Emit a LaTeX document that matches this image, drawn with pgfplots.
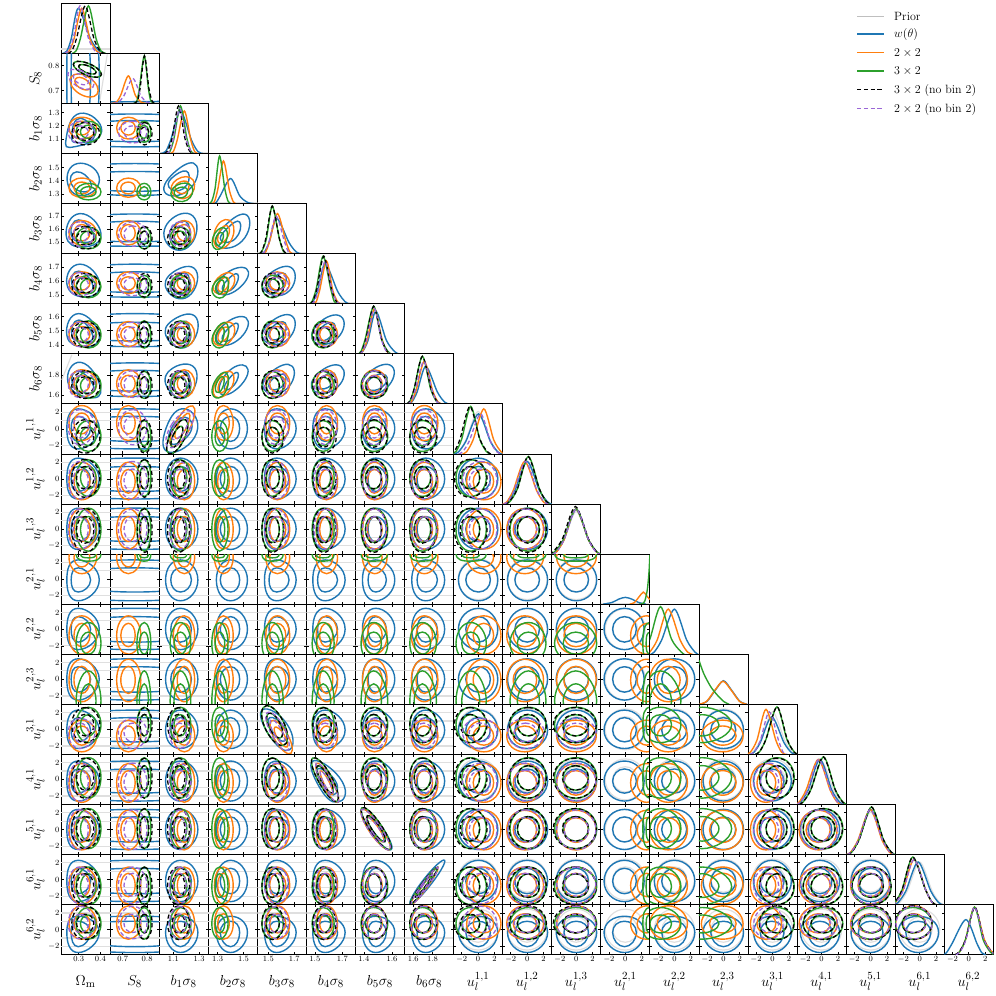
\documentclass[border=0pt]{standalone}
\usepackage{pgfplots}
\pgfplotsset{compat=1.18}
\definecolor{cB}{HTML}{1F77B4}
\definecolor{cO}{HTML}{FF7F0E}
\definecolor{cG}{HTML}{2CA02C}
\definecolor{cP}{HTML}{9A66D6}
\tikzset{
  pA/.style={gray!25,line width=1.2pt},
  pB/.style={cB,line width=1.4pt},
  pO/.style={cO,line width=1.4pt},
  pG/.style={cG,line width=1.4pt},
  pK/.style={black,line width=1.3pt,dash pattern=on 4.2pt off 2.6pt},
  pP/.style={cP,line width=1.3pt,dash pattern=on 4.2pt off 2.6pt},
  cl/.style={smooth cycle,tension=1},
  dg/.style={smooth}
}
% marginal extents per parameter and series: outer left, inner left, centre, inner right, outer right
\def\mgx#1#2 #3 #4 #5 #6;{%
  \expandafter\gdef\csname p#1lo\endcsname{#2}\expandafter\gdef\csname p#1li\endcsname{#3}%
  \expandafter\gdef\csname p#1c\endcsname{#4}%
  \expandafter\gdef\csname p#1ri\endcsname{#5}\expandafter\gdef\csname p#1ro\endcsname{#6}}
\newcommand\mg[3]{\mgx{#1#2}#3;}
\mg{1}{B}{0.245 0.265 0.298 0.355 0.395}
\mg{1}{O}{0.255 0.278 0.314 0.352 0.383}
\mg{1}{G}{0.288 0.308 0.345 0.380 0.403}
\mg{1}{K}{0.268 0.290 0.330 0.370 0.398}
\mg{1}{P}{0.252 0.275 0.306 0.345 0.375}
\mg{2}{B}{0.30 0.45 0.75 1.05 1.20}
\mg{2}{O}{0.675 0.692 0.723 0.751 0.774}
\mg{2}{G}{0.758 0.768 0.788 0.805 0.815}
\mg{2}{K}{0.760 0.771 0.789 0.807 0.820}
\mg{2}{P}{0.682 0.705 0.741 0.774 0.799}
\mg{3}{B}{1.04 1.08 1.155 1.24 1.29}
\mg{3}{O}{1.10 1.13 1.185 1.235 1.265}
\mg{3}{G}{1.075 1.105 1.155 1.205 1.235}
\mg{3}{K}{1.055 1.09 1.14 1.19 1.225}
\mg{3}{P}{1.07 1.10 1.15 1.20 1.235}
\mg{4}{B}{1.29 1.32 1.40 1.47 1.53}
\mg{4}{O}{1.275 1.30 1.345 1.39 1.42}
\mg{4}{G}{1.255 1.28 1.315 1.355 1.38}
\mg{5}{B}{1.47 1.505 1.565 1.66 1.715}
\mg{5}{O}{1.48 1.51 1.57 1.635 1.665}
\mg{5}{G}{1.45 1.485 1.53 1.585 1.615}
\mg{5}{K}{1.45 1.48 1.53 1.585 1.62}
\mg{5}{P}{1.47 1.505 1.56 1.625 1.655}
\mg{6}{B}{1.485 1.52 1.575 1.665 1.72}
\mg{6}{O}{1.51 1.535 1.585 1.63 1.665}
\mg{6}{G}{1.48 1.51 1.56 1.615 1.64}
\mg{6}{K}{1.485 1.515 1.565 1.62 1.655}
\mg{6}{P}{1.495 1.525 1.575 1.625 1.66}
\mg{7}{B}{1.39 1.43 1.485 1.56 1.62}
\mg{7}{O}{1.39 1.425 1.475 1.53 1.565}
\mg{7}{G}{1.38 1.41 1.47 1.525 1.57}
\mg{7}{K}{1.385 1.415 1.47 1.525 1.565}
\mg{7}{P}{1.39 1.42 1.475 1.525 1.56}
\mg{8}{B}{1.585 1.64 1.73 1.85 1.925}
\mg{8}{O}{1.58 1.63 1.715 1.80 1.855}
\mg{8}{G}{1.565 1.61 1.695 1.78 1.84}
\mg{8}{K}{1.565 1.61 1.695 1.785 1.845}
\mg{8}{P}{1.575 1.62 1.71 1.795 1.845}
\mg{9}{B}{-2.4 -1.5 0.05 1.5 2.4}
\mg{9}{O}{-1.4 -0.6 0.7 1.9 2.8}
\mg{9}{G}{-2.7 -2.0 -0.9 0.2 1.0}
\mg{9}{K}{-2.9 -2.2 -1.0 0.2 1.1}
\mg{9}{P}{-1.9 -1.1 0.3 1.5 2.3}
\mg{10}{B}{-2.4 -1.5 0 1.5 2.5}
\mg{10}{O}{-2.5 -1.7 -0.3 1.15 2.0}
\mg{10}{G}{-2.1 -1.2 0.15 1.5 2.3}
\mg{10}{K}{-2.2 -1.2 0.1 1.5 2.35}
\mg{10}{P}{-2.4 -1.6 -0.2 1.2 2.1}
\mg{11}{B}{-2.45 -1.5 0 1.5 2.5}
\mg{11}{O}{-2.4 -1.5 -0.05 1.5 2.45}
\mg{11}{G}{-2.65 -1.6 -0.05 1.5 2.5}
\mg{11}{K}{-2.8 -1.7 -0.1 1.5 2.45}
\mg{11}{P}{-2.4 -1.5 0 1.5 2.4}
\mg{12}{B}{-2.6 -1.55 -0.1 1.35 2.3}
\mg{12}{O}{0.65 1.45 2.6 3.5 4.2}
\mg{12}{G}{2.15 2.55 3.1 4.5 5.2}
\mg{13}{B}{-2.45 -1.55 0 1.5 2.5}
\mg{13}{O}{-3.0 -2.1 -0.75 0.7 1.6}
\mg{13}{G}{-3.9 -3.0 -1.7 -0.35 0.8}
\mg{14}{B}{-2.5 -1.55 0 1.5 2.45}
\mg{14}{O}{-2.7 -1.7 -0.1 1.55 2.4}
\mg{14}{G}{-4.5 -3.8 -2.6 -0.55 1.0}
\mg{15}{B}{-2.3 -1.5 -0.1 1.4 2.3}
\mg{15}{O}{-2.7 -1.9 -0.8 0.4 1.1}
\mg{15}{G}{-1.6 -0.8 0.55 1.75 2.65}
\mg{15}{K}{-1.6 -0.8 0.55 1.8 2.6}
\mg{15}{P}{-2.3 -1.5 -0.4 0.75 1.3}
\mg{16}{B}{-2.6 -1.65 -0.2 1.25 2.2}
\mg{16}{O}{-2.75 -1.9 -0.4 1.05 1.9}
\mg{16}{G}{-2.25 -1.3 0.25 1.65 2.6}
\mg{16}{K}{-2.25 -1.3 0.2 1.65 2.55}
\mg{16}{P}{-2.6 -1.7 -0.35 1.1 1.95}
\mg{17}{B}{-2.4 -1.5 0 1.5 2.4}
\mg{17}{O}{-2.45 -1.55 -0.05 1.4 2.3}
\mg{17}{G}{-2.3 -1.4 0.1 1.55 2.5}
\mg{17}{K}{-2.3 -1.4 0.1 1.55 2.5}
\mg{17}{P}{-2.4 -1.5 -0.05 1.45 2.35}
\mg{18}{B}{-2.65 -1.7 -0.2 1.35 2.3}
\mg{18}{O}{-2.95 -2.05 -0.7 0.75 1.5}
\mg{18}{G}{-3.0 -2.15 -0.85 0.7 1.5}
\mg{18}{K}{-3.0 -2.15 -0.85 0.7 1.5}
\mg{18}{P}{-2.9 -2.0 -0.7 0.75 1.5}
\mg{19}{B}{-2.75 -2.05 -0.35 1.0 1.6}
\mg{19}{O}{-1.15 -0.4 0.7 1.9 2.85}
\mg{19}{G}{-1.15 -0.4 0.7 1.75 2.65}
\mg{19}{K}{-1.2 -0.4 0.75 1.85 2.85}
\mg{19}{P}{-1.1 -0.35 0.7 1.85 2.8}
\foreach \p in {9,...,19}{\mg{\p}{A}{-2.45 -1.52 0 1.52 2.45}}
% panels whose contours are tilted: four points per contour
\newcommand\ov[4]{\expandafter\def\csname ov#1.#2#3\endcsname{#4}}
\ov{1}{2}{Oo}{(0.39,0.70)(0.325,0.762)(0.26,0.74)(0.325,0.678)}
\ov{1}{2}{Oi}{(0.355,0.715)(0.318,0.75)(0.282,0.738)(0.318,0.705)}
\ov{1}{2}{Go}{(0.405,0.765)(0.34,0.81)(0.275,0.805)(0.34,0.76)}
\ov{1}{2}{Gi}{(0.38,0.773)(0.34,0.80)(0.30,0.797)(0.34,0.77)}
\ov{1}{2}{Po}{(0.37,0.725)(0.31,0.78)(0.25,0.765)(0.31,0.71)}
\ov{1}{2}{Pi}{(0.345,0.735)(0.31,0.765)(0.275,0.755)(0.31,0.725)}
\ov{3}{9}{Bo}{(1.28,-0.5)(1.19,2.4)(1.044,0.1)(1.07,-2.8)}
\ov{3}{9}{Bi}{(1.235,-0.3)(1.19,1.4)(1.08,-0.1)(1.095,-1.85)}
\ov{3}{9}{Oo}{(1.25,2.75)(1.118,0.7)(1.09,-2.1)(1.225,-0.05)}
\ov{3}{9}{Oi}{(1.22,1.85)(1.14,0.6)(1.12,-1.15)(1.20,0.1)}
\ov{3}{9}{Go}{(1.195,1.1)(1.08,-0.55)(1.065,-2.95)(1.18,-1.35)}
\ov{3}{9}{Gi}{(1.165,0.3)(1.10,-0.7)(1.09,-2.2)(1.155,-1.2)}
\ov{3}{9}{Po}{(1.24,2.1)(1.09,0.6)(1.06,-2.2)(1.205,-0.6)}
\ov{3}{9}{Pi}{(1.205,1.2)(1.115,0.55)(1.095,-1.25)(1.18,-0.35)}
\ov{5}{15}{Bo}{(1.455,2.35)(1.51,-0.8)(1.665,-2.45)(1.645,0.6)}
\ov{5}{15}{Bi}{(1.51,1.4)(1.535,-0.35)(1.625,-1.4)(1.62,0.3)}
\ov{5}{15}{Oo}{(1.522,1.0)(1.56,-1.5)(1.676,-2.85)(1.638,-0.35)}
\ov{5}{15}{Oi}{(1.55,0.25)(1.575,-1.2)(1.645,-2.1)(1.622,-0.65)}
\ov{5}{15}{Go}{(1.46,2.6)(1.50,-0.6)(1.637,-1.7)(1.595,1.5)}
\ov{5}{15}{Gi}{(1.493,1.8)(1.52,-0.2)(1.604,-0.9)(1.577,1.1)}
\ov{5}{15}{Po}{(1.49,2.0)(1.53,-0.8)(1.65,-2.5)(1.615,0.4)}
\ov{5}{15}{Pi}{(1.52,1.1)(1.545,-0.6)(1.62,-1.5)(1.595,0.1)}
\ov{6}{16}{Bo}{(1.495,2.25)(1.525,-0.7)(1.665,-2.75)(1.70,-0.3)}
\ov{6}{16}{Bi}{(1.525,1.3)(1.55,-0.5)(1.635,-1.85)(1.65,-0.2)}
\ov{6}{16}{Oo}{(1.51,1.9)(1.565,-0.9)(1.67,-2.7)(1.615,0.1)}
\ov{6}{16}{Oi}{(1.54,1.0)(1.572,-0.7)(1.63,-1.8)(1.598,-0.1)}
\ov{6}{16}{Go}{(1.483,2.55)(1.535,-0.5)(1.663,-2.6)(1.611,0.6)}
\ov{6}{16}{Gi}{(1.517,1.6)(1.55,-0.3)(1.629,-1.6)(1.596,0.4)}
\ov{7}{17}{Bo}{(1.385,2.4)(1.455,-0.5)(1.595,-2.4)(1.52,0.5)}
\ov{7}{17}{Bi}{(1.425,1.45)(1.47,-0.3)(1.55,-1.45)(1.51,0.3)}
\ov{7}{17}{Oo}{(1.385,2.4)(1.45,-0.5)(1.585,-2.4)(1.51,0.5)}
\ov{7}{17}{Oi}{(1.42,1.45)(1.46,-0.3)(1.54,-1.45)(1.5,0.3)}
\ov{7}{17}{Go}{(1.386,2.6)(1.455,-0.4)(1.588,-2.4)(1.519,0.6)}
\ov{7}{17}{Gi}{(1.425,1.65)(1.465,-0.2)(1.549,-1.45)(1.509,0.4)}
\ov{8}{18}{Bo}{(1.924,2.3)(1.715,0.1)(1.569,-2.9)(1.775,-0.7)}
\ov{8}{18}{Bi}{(1.85,1.35)(1.725,-0.1)(1.63,-1.85)(1.76,-0.5)}
\ov{8}{18}{Oo}{(1.855,1.45)(1.695,-0.5)(1.58,-2.95)(1.74,-1.0)}
\ov{8}{18}{Oi}{(1.80,0.6)(1.705,-0.6)(1.635,-2.1)(1.73,-0.9)}
\ov{8}{18}{Go}{(1.85,1.45)(1.69,-0.5)(1.57,-2.95)(1.73,-1.0)}
\ov{8}{18}{Gi}{(1.795,0.6)(1.7,-0.6)(1.625,-2.1)(1.72,-0.9)}
\ov{3}{4}{Bo}{(1.28,1.513)(1.128,1.48)(1.032,1.315)(1.216,1.328)}
\ov{3}{4}{Bi}{(1.216,1.46)(1.115,1.442)(1.065,1.353)(1.178,1.34)}
\ov{3}{4}{Oo}{(1.254,1.404)(1.128,1.409)(1.095,1.303)(1.216,1.277)}
\ov{3}{4}{Oi}{(1.216,1.384)(1.14,1.384)(1.12,1.328)(1.191,1.308)}
\ov{3}{4}{Go}{(1.242,1.358)(1.128,1.366)(1.09,1.277)(1.204,1.252)}
\ov{3}{4}{Gi}{(1.204,1.34)(1.128,1.34)(1.115,1.29)(1.184,1.277)}
\ov{4}{5}{Bo}{(1.527,1.705)(1.352,1.622)(1.30,1.475)(1.489,1.51)}
\ov{4}{5}{Bi}{(1.47,1.654)(1.372,1.604)(1.326,1.515)(1.437,1.528)}
\ov{4}{5}{Oo}{(1.41,1.65)(1.30,1.63)(1.285,1.47)(1.395,1.50)}
\ov{4}{5}{Oi}{(1.385,1.615)(1.325,1.60)(1.305,1.50)(1.37,1.53)}
\ov{4}{5}{Go}{(1.365,1.60)(1.28,1.57)(1.27,1.46)(1.35,1.48)}
\ov{4}{5}{Gi}{(1.34,1.57)(1.295,1.55)(1.29,1.48)(1.33,1.50)}
\ov{4}{6}{Bo}{(1.522,1.688)(1.347,1.64)(1.313,1.51)(1.476,1.557)}
\ov{4}{6}{Bi}{(1.455,1.648)(1.372,1.605)(1.341,1.533)(1.424,1.552)}
\ov{4}{6}{Oo}{(1.415,1.65)(1.30,1.62)(1.28,1.52)(1.40,1.54)}
\ov{4}{6}{Oi}{(1.38,1.62)(1.32,1.60)(1.31,1.53)(1.37,1.55)}
\ov{4}{6}{Go}{(1.37,1.62)(1.28,1.59)(1.27,1.50)(1.36,1.50)}
\ov{4}{6}{Gi}{(1.345,1.60)(1.295,1.58)(1.29,1.52)(1.335,1.52)}
\ov{4}{7}{Bo}{(1.52,1.59)(1.345,1.54)(1.31,1.41)(1.475,1.45)}
\ov{4}{7}{Bi}{(1.455,1.55)(1.37,1.505)(1.34,1.435)(1.42,1.455)}
\ov{4}{7}{Oo}{(1.415,1.55)(1.30,1.52)(1.28,1.41)(1.40,1.43)}
\ov{4}{7}{Oi}{(1.38,1.52)(1.32,1.50)(1.31,1.43)(1.37,1.45)}
\ov{4}{7}{Go}{(1.37,1.55)(1.28,1.50)(1.27,1.40)(1.36,1.41)}
\ov{4}{7}{Gi}{(1.345,1.52)(1.295,1.49)(1.29,1.42)(1.335,1.43)}
\ov{4}{8}{Bo}{(1.52,1.89)(1.37,1.82)(1.325,1.61)(1.48,1.70)}
\ov{4}{8}{Bi}{(1.455,1.825)(1.385,1.76)(1.355,1.655)(1.43,1.705)}
\ov{4}{8}{Oo}{(1.41,1.83)(1.30,1.76)(1.28,1.585)(1.395,1.65)}
\ov{4}{8}{Oi}{(1.375,1.78)(1.32,1.74)(1.31,1.63)(1.365,1.665)}
\ov{4}{8}{Go}{(1.37,1.82)(1.28,1.74)(1.27,1.585)(1.36,1.63)}
\ov{4}{8}{Gi}{(1.345,1.78)(1.295,1.73)(1.29,1.63)(1.335,1.665)}
\ov{3}{5}{Bo}{(1.267,1.68)(1.09,1.68)(1.044,1.503)(1.216,1.465)}
\ov{3}{5}{Bi}{(1.216,1.637)(1.115,1.637)(1.077,1.528)(1.191,1.495)}
\ov{3}{6}{Bo}{(1.275,1.676)(1.10,1.664)(1.052,1.533)(1.216,1.49)}
\ov{3}{6}{Bi}{(1.216,1.64)(1.128,1.629)(1.09,1.545)(1.191,1.514)}
\ov{3}{7}{Bo}{(1.28,1.588)(1.10,1.577)(1.052,1.449)(1.216,1.395)}
\ov{3}{7}{Bi}{(1.216,1.55)(1.128,1.54)(1.09,1.46)(1.191,1.42)}
\ov{3}{8}{Bo}{(1.267,1.87)(1.077,1.854)(1.065,1.65)(1.216,1.593)}
\ov{3}{8}{Bi}{(1.216,1.815)(1.115,1.80)(1.09,1.67)(1.191,1.64)}
\ov{5}{6}{Bo}{(1.687,1.688)(1.51,1.652)(1.472,1.533)(1.65,1.52)}
\ov{5}{6}{Bi}{(1.63,1.65)(1.535,1.62)(1.51,1.55)(1.605,1.55)}
\ov{5}{7}{Bo}{(1.687,1.60)(1.51,1.555)(1.472,1.43)(1.65,1.44)}
\ov{5}{7}{Bi}{(1.63,1.555)(1.535,1.53)(1.51,1.45)(1.605,1.46)}
\ov{5}{8}{Bo}{(1.685,1.89)(1.52,1.83)(1.47,1.65)(1.64,1.66)}
\ov{5}{8}{Bi}{(1.63,1.80)(1.54,1.77)(1.51,1.67)(1.60,1.68)}
\ov{6}{7}{Bo}{(1.69,1.60)(1.525,1.55)(1.50,1.42)(1.665,1.45)}
\ov{6}{7}{Bi}{(1.64,1.55)(1.55,1.525)(1.53,1.44)(1.615,1.46)}
\ov{6}{8}{Bo}{(1.69,1.89)(1.525,1.82)(1.495,1.64)(1.665,1.68)}
\ov{6}{8}{Bi}{(1.64,1.82)(1.55,1.77)(1.525,1.67)(1.62,1.70)}
\ov{7}{8}{Bo}{(1.60,1.89)(1.44,1.83)(1.40,1.63)(1.56,1.67)}
\ov{7}{8}{Bi}{(1.555,1.80)(1.45,1.77)(1.43,1.66)(1.53,1.68)}
\ov{1}{3}{Bo}{(0.406,1.156)(0.306,1.295)(0.242,1.105)(0.283,1.042)}
\ov{1}{3}{Bi}{(0.375,1.13)(0.306,1.257)(0.268,1.13)(0.298,1.072)}
\ov{1}{4}{Bo}{(0.394,1.43)(0.294,1.53)(0.249,1.378)(0.329,1.29)}
\ov{1}{4}{Bi}{(0.355,1.39)(0.291,1.467)(0.265,1.378)(0.329,1.315)}
\ov{1}{5}{Bo}{(0.403,1.566)(0.306,1.718)(0.242,1.553)(0.322,1.465)}
\ov{1}{5}{Bi}{(0.37,1.55)(0.30,1.67)(0.265,1.56)(0.32,1.50)}
\ov{1}{6}{Bo}{(0.398,1.58)(0.306,1.72)(0.245,1.58)(0.329,1.486)}
\ov{1}{6}{Bi}{(0.365,1.57)(0.30,1.67)(0.268,1.58)(0.325,1.515)}
\ov{1}{7}{Bo}{(0.395,1.47)(0.30,1.62)(0.245,1.47)(0.325,1.39)}
\ov{1}{7}{Bi}{(0.365,1.465)(0.30,1.575)(0.268,1.47)(0.32,1.425)}
\ov{1}{8}{Bo}{(0.40,1.68)(0.31,1.93)(0.25,1.73)(0.345,1.575)}
\ov{1}{8}{Bi}{(0.37,1.68)(0.30,1.84)(0.27,1.72)(0.33,1.62)}
% faint prior edges
\expandafter\def\csname ex1.2\endcsname{\addplot[pA] coordinates {(0.398,0.662)(0.432,0.845)};}
\expandafter\def\csname ex1.8\endcsname{\addplot[pA] coordinates {(0.222,1.753)(0.268,2.007)};}
% heights on the diagonal: tail, shoulder, peak
\newcommand\hy[4]{\expandafter\def\csname hy#1a\endcsname{#2}\expandafter\def\csname hy#1b\endcsname{#3}\expandafter\def\csname hy#1c\endcsname{#4}}
\hy{95}{0.05}{0.30}{0.95}\hy{90}{0.045}{0.285}{0.90}\hy{85}{0.04}{0.27}{0.85}\hy{80}{0.04}{0.25}{0.80}
\hy{75}{0.035}{0.235}{0.75}\hy{70}{0.035}{0.22}{0.70}\hy{55}{0.03}{0.17}{0.55}\hy{50}{0.025}{0.155}{0.50}
\newcommand\cv[4]{\edef\tmp{\noexpand\addplot[dg,p#1] coordinates {(#3,0)%
  (\csname p\Pq#1lo\endcsname,\csname hy#2a\endcsname)(\csname p\Pq#1li\endcsname,\csname hy#2b\endcsname)%
  (\csname p\Pq#1c\endcsname,\csname hy#2c\endcsname)%
  (\csname p\Pq#1ri\endcsname,\csname hy#2b\endcsname)(\csname p\Pq#1ro\endcsname,\csname hy#2a\endcsname)(#4,0)};}\tmp}
\newcommand\dgd[2]{\expandafter\def\csname d#1\endcsname{\def\Pq{#1}#2}}
\dgd{1}{\addplot[pA,line width=2pt] coordinates {(0.218,0.085)(0.445,0.085)};\cv{B}{90}{0.225}{0.42}\cv{O}{90}{0.235}{0.405}\cv{G}{95}{0.27}{0.425}\cv{K}{95}{0.25}{0.42}\cv{P}{95}{0.235}{0.395}}
\dgd{2}{\addplot[pA] coordinates {(0.65,0.02)(0.85,0.02)};\addplot[pB] coordinates {(0.65,0.03)(0.85,0.04)};\cv{O}{55}{0.655}{0.795}\cv{G}{95}{0.745}{0.83}\cv{K}{95}{0.745}{0.83}\cv{P}{50}{0.66}{0.82}}
\dgd{3}{\addplot[pA] coordinates {(0.99,0.02)(1.37,0.02)};\cv{B}{85}{1.0}{1.33}\cv{O}{85}{1.075}{1.29}\cv{G}{95}{1.05}{1.26}\cv{K}{95}{1.03}{1.25}\cv{P}{90}{1.045}{1.26}}
\dgd{4}{\addplot[pA] coordinates {(1.23,0.01)(1.61,0.01)};\cv{B}{50}{1.265}{1.58}\cv{O}{85}{1.255}{1.44}\cv{G}{95}{1.235}{1.40}}
\dgd{5}{\addplot[pA] coordinates {(1.41,0.02)(1.79,0.02)};\cv{B}{70}{1.445}{1.75}\cv{O}{80}{1.46}{1.69}\cv{G}{95}{1.43}{1.64}\cv{K}{95}{1.43}{1.645}\cv{P}{75}{1.45}{1.68}}
\dgd{6}{\addplot[pA] coordinates {(1.44,0.02)(1.795,0.02)};\cv{B}{80}{1.465}{1.75}\cv{O}{85}{1.49}{1.69}\cv{G}{95}{1.46}{1.665}\cv{K}{95}{1.465}{1.68}\cv{P}{85}{1.475}{1.685}}
\dgd{7}{\addplot[pA] coordinates {(1.34,0.01)(1.69,0.01)};\cv{B}{85}{1.365}{1.65}\cv{O}{90}{1.37}{1.59}\cv{G}{95}{1.36}{1.595}\cv{K}{95}{1.365}{1.59}\cv{P}{90}{1.37}{1.585}}
\dgd{8}{\addplot[pA] coordinates {(1.51,0.01)(2.02,0.01)};\cv{B}{75}{1.55}{1.97}\cv{O}{85}{1.545}{1.90}\cv{G}{95}{1.53}{1.885}\cv{K}{95}{1.53}{1.89}\cv{P}{85}{1.54}{1.89}}
\dgd{9}{\cv{A}{85}{-3}{3}\cv{B}{80}{-2.9}{2.9}\cv{O}{90}{-1.9}{3.3}\cv{G}{95}{-3.3}{1.5}\cv{K}{95}{-3.4}{1.6}\cv{P}{80}{-2.4}{2.8}}
\dgd{10}{\cv{A}{85}{-3}{3}\cv{B}{85}{-2.9}{3}\cv{O}{85}{-3}{2.5}\cv{G}{95}{-2.6}{2.8}\cv{K}{95}{-2.7}{2.85}\cv{P}{85}{-2.9}{2.6}}
\dgd{11}{\cv{A}{85}{-3}{3}\cv{B}{90}{-2.95}{3}\cv{O}{90}{-2.9}{2.95}\cv{G}{90}{-3.1}{3}\cv{K}{95}{-3.3}{2.95}\cv{P}{90}{-2.9}{2.9}}
\dgd{12}{\addplot[pA] coordinates {(-3,0.01)(3,0.01)};
  \addplot[dg,pB] coordinates {(-2.7,0)(-1.6,0.035)(-0.8,0.10)(0,0.135)(0.8,0.10)(1.6,0.035)(2.5,0)};
  \addplot[dg,pO] coordinates {(0.55,0)(1.1,0.03)(1.7,0.15)(2.2,0.24)(2.6,0.17)(3,0.09)};
  \addplot[dg,pG] coordinates {(1.7,0)(2.1,0.01)(2.4,0.07)(2.7,0.3)(2.9,0.65)(3,0.98)};}
\dgd{13}{\cv{B}{90}{-2.9}{2.9}\cv{O}{90}{-3.4}{2.2}\cv{G}{95}{-4.2}{1.2}}
\dgd{14}{\addplot[dg,pB] coordinates {(-2.9,0)(-2,0.06)(-1,0.28)(0,0.47)(1,0.28)(2,0.06)(2.9,0)};
  \addplot[dg,pO] coordinates {(-2.95,0)(-2.05,0.06)(-1.05,0.28)(-0.05,0.46)(0.95,0.28)(1.95,0.06)(2.85,0)};
  \addplot[dg,pG] coordinates {(-3,0.88)(-2.4,0.61)(-1.55,0.35)(-0.73,0.18)(0.08,0.05)(0.7,0)};}
\dgd{15}{\cv{A}{85}{-3}{3}\cv{B}{75}{-2.8}{2.8}\cv{O}{90}{-3.2}{1.6}\cv{G}{95}{-2.1}{3.1}\cv{K}{95}{-2.1}{3.1}\cv{P}{85}{-2.8}{1.8}}
\dgd{16}{\cv{A}{85}{-3}{3}\cv{B}{90}{-3.1}{2.7}\cv{O}{90}{-3.25}{2.4}\cv{G}{95}{-2.75}{3.1}\cv{K}{95}{-2.75}{3.05}\cv{P}{90}{-3.1}{2.45}}
\dgd{17}{\cv{A}{85}{-3}{3}\cv{B}{90}{-2.9}{2.9}\cv{O}{90}{-2.95}{2.8}\cv{G}{95}{-2.8}{3}\cv{K}{95}{-2.8}{3}\cv{P}{90}{-2.9}{2.85}}
\dgd{18}{\cv{A}{85}{-3}{3}\cv{B}{85}{-3.15}{2.8}\cv{O}{90}{-3.45}{2.0}\cv{G}{95}{-3.5}{2.0}\cv{K}{95}{-3.5}{2.0}\cv{P}{90}{-3.4}{2.0}}
\dgd{19}{\cv{B}{70}{-3.25}{2.1}\cv{O}{95}{-1.65}{3.35}\cv{G}{95}{-1.65}{3.15}\cv{K}{95}{-1.7}{3.35}\cv{P}{95}{-1.6}{3.3}}
% limits and ticks of each parameter
\newcommand\plim[6]{%
  \expandafter\def\csname a#1\endcsname{#2}\expandafter\def\csname b#1\endcsname{#3}%
  \expandafter\def\csname tx#1\endcsname{#4}\expandafter\def\csname ty#1\endcsname{#5}%
  \expandafter\def\csname l#1\endcsname{#6}}
\plim{1}{0.218}{0.445}{0.3,0.4}{}{$\Omega_{\mathrm{m}}$}
\plim{2}{0.648}{0.849}{0.7,0.8}{0.7,0.8}{$S_8$}
\plim{3}{0.99}{1.37}{1.1,1.3}{1.1,1.2,1.3}{$b_1\sigma_8$}
\plim{4}{1.227}{1.606}{1.3,1.5}{1.3,1.4,1.5}{$b_2\sigma_8$}
\plim{5}{1.414}{1.794}{1.5,1.7}{1.5,1.6,1.7}{$b_3\sigma_8$}
\plim{6}{1.438}{1.795}{1.5,1.7}{1.5,1.6,1.7}{$b_4\sigma_8$}
\plim{7}{1.34}{1.689}{1.4,1.6}{1.4,1.5,1.6}{$b_5\sigma_8$}
\plim{8}{1.51}{2.017}{1.6,1.8}{1.6,1.8}{$b_6\sigma_8$}
\plim{9}{-3}{3}{-2,0,2}{-2,0,2}{$u_l^{1,1}$}
\plim{10}{-3}{3}{-2,0,2}{-2,0,2}{$u_l^{1,2}$}
\plim{11}{-3}{3}{-2,0,2}{-2,0,2}{$u_l^{1,3}$}
\plim{12}{-3}{3}{-2,0,2}{-2,0,2}{$u_l^{2,1}$}
\plim{13}{-3}{3}{-2,0,2}{-2,0,2}{$u_l^{2,2}$}
\plim{14}{-3}{3}{-2,0,2}{-2,0,2}{$u_l^{2,3}$}
\plim{15}{-3}{3}{-2,0,2}{-2,0,2}{$u_l^{3,1}$}
\plim{16}{-3}{3}{-2,0,2}{-2,0,2}{$u_l^{4,1}$}
\plim{17}{-3}{3}{-2,0,2}{-2,0,2}{$u_l^{5,1}$}
\plim{18}{-3}{3}{-2,0,2}{-2,0,2}{$u_l^{6,1}$}
\plim{19}{-3}{3}{-2,0,2}{-2,0,2}{$u_l^{6,2}$}
\expandafter\def\csname nb4\endcsname{}\expandafter\def\csname nb12\endcsname{}
\expandafter\def\csname nb13\endcsname{}\expandafter\def\csname nb14\endcsname{}
\def\pick#1#2#3{\ifcsname p#1#2c\endcsname #2\else #3\fi}
% one closed contour: style, series, level, series to fall back on
\newcommand\ct[4]{%
  \ifcsname ov\I.\J#2#3\endcsname \edef\cc{\csname ov\I.\J#2#3\endcsname}%
  \else\ifcsname ov\I.\J#4#3\endcsname \edef\cc{\csname ov\I.\J#4#3\endcsname}%
  \else
    \edef\sx{\pick\I{#2}{#4}}\edef\sy{\pick\J{#2}{#4}}%
    \edef\cc{(\csname p\I\sx r#3\endcsname,\csname p\J\sy c\endcsname)%
      (\csname p\I\sx c\endcsname,\csname p\J\sy r#3\endcsname)%
      (\csname p\I\sx l#3\endcsname,\csname p\J\sy c\endcsname)%
      (\csname p\I\sx c\endcsname,\csname p\J\sy l#3\endcsname)}%
  \fi\fi
  \edef\tmp{\noexpand\addplot[cl,#1] coordinates {\cc};}\tmp}
\pgfplotsset{every axis/.append style={
  scale only axis,width=49.07pt,height=50.07pt,anchor=south west,
  axis line style={line width=0.8pt},
  tick align=inside,major tick length=2.6pt,tick style={black,line width=0.7pt},
  scaled ticks=false,
  tick label style={font=\fontsize{8}{8}\selectfont,inner sep=1.5pt},
  every axis x label/.style={at={(axis description cs:0.5,-0.53)},anchor=center,font=\fontsize{15}{15}\selectfont},
  every axis y label/.style={at={(axis description cs:-0.52,0.5)},rotate=90,anchor=center,font=\fontsize{15}{15}\selectfont}
}}
\begin{document}
\begin{tikzpicture}[x=1pt,y=1pt]
\path[use as bounding box] (0,0) rectangle (996,996);
\foreach \J in {1,...,19}{\foreach \I in {1,...,\J}{%
  \pgfmathsetmacro\X{61+49.07*(\I-1)}%
  \pgfmathsetmacro\Y{996-3.3-50.07*\J}%
  \edef\xa{\csname a\I\endcsname}\edef\xb{\csname b\I\endcsname}%
  \ifnum\J=19 \pgfplotsset{xl/.style={xlabel={\csname l\I\endcsname}}}\else\pgfplotsset{xl/.style={xticklabels={}}}\fi
  \ifnum\I=\J
    \ifnum\J=19 \pgfplotsset{xd/.style={xtick/.expanded={\csname tx\I\endcsname},xtick pos=lower}}\else\pgfplotsset{xd/.style={xtick=\empty}}\fi
    \begin{axis}[at={(\X pt,\Y pt)},xmin=\xa,xmax=\xb,ymin=0,ymax=1,ytick=\empty,xl,xd]
      \csname d\I\endcsname
    \end{axis}
  \else
    \edef\ya{\csname a\J\endcsname}\edef\yb{\csname b\J\endcsname}%
    \ifnum\I=1 \pgfplotsset{yl/.style={ylabel={\csname l\J\endcsname}}}\else\pgfplotsset{yl/.style={yticklabels={}}}\fi
    \begin{axis}[at={(\X pt,\Y pt)},xmin=\xa,xmax=\xb,ymin=\ya,ymax=\yb,tick pos=both,
      xtick/.expanded={\csname tx\I\endcsname},ytick/.expanded={\csname ty\J\endcsname},xl,yl]
      \ifnum\J>8
        \ifnum\I>8
          \ct{pA}{A}{o}{A}\ct{pA}{A}{i}{A}%
        \else
          \edef\tmp{\noexpand\addplot[pA] coordinates {(\xa,2)(\xb,2)};\noexpand\addplot[pA] coordinates {(\xa,1)(\xb,1)};%
            \noexpand\addplot[pA] coordinates {(\xa,-1)(\xb,-1)};\noexpand\addplot[pA] coordinates {(\xa,-2)(\xb,-2)};}\tmp
        \fi
      \fi
      \ifcsname ex\I.\J\endcsname\csname ex\I.\J\endcsname\fi
      \ct{pB}{B}{o}{B}\ct{pB}{B}{i}{B}%
      \ct{pO}{O}{o}{O}\ct{pO}{O}{i}{O}%
      \ct{pG}{G}{o}{G}\ct{pG}{G}{i}{G}%
      \def\hasd{1}%
      \ifcsname nb\I\endcsname\def\hasd{0}\fi
      \ifcsname nb\J\endcsname\def\hasd{0}\fi
      \ifnum\hasd=1
        \ct{pK}{K}{o}{G}\ct{pK}{K}{i}{G}%
        \ct{pP}{P}{o}{O}\ct{pP}{P}{i}{O}%
      \fi
    \end{axis}
  \fi
}}
% legend
\draw[gray!50,line width=1.4pt] (857,979.7) -- (884,979.7);
\draw[cB,line width=1.4pt] (857,962) -- (884,962);
\draw[cO,line width=1.4pt] (857,943.3) -- (884,943.3);
\draw[cG,line width=1.4pt] (857,925) -- (884,925);
\draw[black,line width=1.3pt,dash pattern=on 4.2pt off 2.6pt] (857,906.3) -- (884,906.3);
\draw[cP,line width=1.3pt,dash pattern=on 4.2pt off 2.6pt] (857,887.3) -- (884,887.3);
\begin{scope}[every node/.style={anchor=base west,inner sep=0pt,font=\fontsize{12}{12}\selectfont}]
\node at (894,975.7) {Prior};
\node at (894,958) {$w(\theta)$};
\node at (894,939.3) {$2\times 2$};
\node at (894,921) {$3\times 2$};
\node at (894,902.3) {$3\times 2$ (no bin 2)};
\node at (894,883.3) {$2\times 2$ (no bin 2)};
\end{scope}
\end{tikzpicture}
\end{document}
